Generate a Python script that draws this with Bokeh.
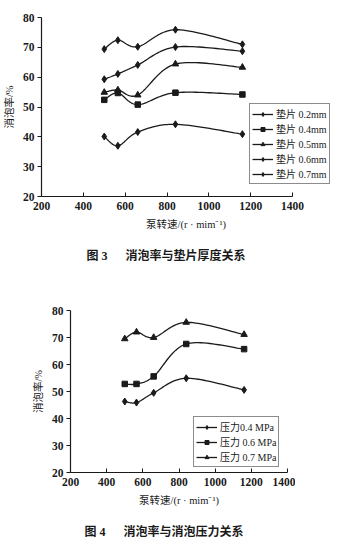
import numpy as np
from bokeh.plotting import figure
from bokeh.models import Range1d, FixedTicker, Legend, LegendItem, Title, Spacer
from bokeh.layouts import column, row
from bokeh.embed import file_html
from bokeh.resources import INLINE

# ---- data ----
speed = [500, 565, 660, 840, 1160]

shim_labels = ["垫片 0.2mm", "垫片 0.4mm", "垫片 0.5mm", "垫片 0.6mm", "垫片 0.7mm"]
shim_02 = [40.1, 37.0, 41.6, 44.2, 40.9]
shim_04 = [52.4, 54.7, 50.8, 54.8, 54.2]
shim_05 = [54.9, 55.7, 54.0, 64.4, 63.3]
shim_06 = [59.3, 61.1, 64.1, 70.1, 68.7]
shim_07 = [69.4, 72.4, 70.2, 75.9, 71.0]

press_labels = ["压力0.4 MPa", "压力 0.6 MPa", "压力 0.7 MPa"]
press_04 = [46.3, 45.9, 49.5, 54.9, 50.6]
press_06 = [52.8, 52.8, 55.6, 67.6, 65.7]
press_07 = [69.5, 72.0, 70.0, 75.6, 71.1]

y_ticks = [20, 30, 40, 50, 60, 70, 80]
x_ticks = [200, 400, 600, 800, 1000, 1200, 1400]

x_title = "泵转速/(r · mim⁻¹)"
y_title = "消泡率/%"
cap3 = "图 3\u2003\u2002消泡率与垫片厚度关系"
cap4 = "图 4\u2003\u2002消泡率与消泡压力关系"

SERIF = "Liberation Serif, Noto Sans CJK SC"
INK = "#1a1a1a"


def smooth(xs, ys, n=24):
    """Excel-like smoothed line (uniform Catmull-Rom through the data points)."""
    P = np.column_stack([xs, ys]).astype(float)
    P = np.vstack([P[0], P, P[-1]])
    out = []
    t = np.linspace(0, 1, n)
    for i in range(1, len(P) - 2):
        p0, p1, p2, p3 = P[i - 1], P[i], P[i + 1], P[i + 2]
        c1 = p1 + (p2 - p0) / 6.0
        c2 = p2 - (p3 - p1) / 6.0
        b = ((1 - t) ** 3)[:, None] * p1 + (3 * (1 - t) ** 2 * t)[:, None] * c1 \
            + (3 * (1 - t) * t ** 2)[:, None] * c2 + (t ** 3)[:, None] * p2
        out.append(b if i == 1 else b[1:])
    c = np.vstack(out)
    return c[:, 0], c[:, 1]


def style(p):
    p.outline_line_color = None
    p.xgrid.visible = False
    p.ygrid.visible = False
    for ax in (p.xaxis[0], p.yaxis[0]):
        ax.axis_line_color = INK
        ax.axis_line_width = 1.2
        ax.major_tick_line_color = INK
        ax.minor_tick_line_color = None
        ax.major_label_text_font = SERIF
        ax.major_label_text_font_size = "11.5px"
        ax.major_label_text_font_style = "bold"
        ax.major_label_text_color = INK
        ax.axis_label_text_font = SERIF
        ax.axis_label_text_font_size = "10.5px"
        ax.axis_label_text_font_style = "normal"
        ax.axis_label_text_color = INK
    p.xaxis[0].ticker = FixedTicker(ticks=x_ticks)
    p.yaxis[0].ticker = FixedTicker(ticks=y_ticks)
    p.xaxis[0].bounds = (200, 1400)
    p.xaxis[0].major_tick_in = 4
    p.xaxis[0].major_tick_out = 0
    p.yaxis[0].major_tick_in = 0
    p.yaxis[0].major_tick_out = 4
    p.xaxis[0].axis_label = x_title
    p.yaxis[0].axis_label = y_title
    p.xaxis[0].major_label_standoff = 5
    p.yaxis[0].major_label_standoff = 3
    p.yaxis[0].axis_label_standoff = 5
    p.xaxis[0].axis_label_standoff = 6


def add_series(p, ys, marker, size):
    sx, sy = smooth(speed, ys)
    r1 = p.line(sx, sy, line_color=INK, line_width=1.3)
    r2 = p.scatter(speed, ys, marker=marker, size=size, fill_color=INK, line_color=INK)
    return [r1, r2]


def add_legend(p, items, loc):
    lg = Legend(items=items, location=loc, border_line_color=INK, border_line_width=1.2,
                background_fill_alpha=1, label_text_font=SERIF, label_text_font_size="10px",
                label_text_color=INK, glyph_width=21, glyph_height=10, label_standoff=3,
                spacing=0, padding=2, margin=0, label_height=12)
    p.add_layout(lg, "center")


def add_caption(p, text, offset):
    t = Title(text=text, align="left", offset=offset, text_font=SERIF, text_font_size="12px",
              text_font_style="bold", text_color=INK, standoff=28)
    p.add_layout(t, "below")


# ---- figure 3 ----
p1 = figure(width=338, height=278, x_range=Range1d(200, 1581), y_range=Range1d(20, 80),
            output_backend="svg", toolbar_location=None,
            min_border_left=40, min_border_right=8, min_border_top=17, min_border_bottom=82)
style(p1)
series1 = [(shim_02, "diamond", 7), (shim_04, "square", 5.5), (shim_05, "triangle", 6.5),
           (shim_06, "diamond", 7), (shim_07, "diamond", 7)]
items1 = []
for (ys, mk, sz), lab in zip(series1, shim_labels):
    items1.append(LegendItem(label=lab, renderers=add_series(p1, ys, mk, sz)))
add_legend(p1, items1, (208, 12))
add_caption(p1, cap3, 45)

# ---- figure 4 ----
p2 = figure(width=266, height=277, x_range=Range1d(200, 1400), y_range=Range1d(20, 80),
            output_backend="svg", toolbar_location=None,
            min_border_left=40, min_border_right=8, min_border_top=32, min_border_bottom=83)
style(p2)
series2 = [(press_04, "diamond", 7), (press_06, "square", 5.5), (press_07, "triangle", 6.5)]
items2 = []
for (ys, mk, sz), lab in zip(series2, press_labels):
    items2.append(LegendItem(label=lab, renderers=add_series(p2, ys, mk, sz)))
add_legend(p2, items2, (123, 5))
add_caption(p2, cap4, 14)

layout = column(row(p1), row(Spacer(width=29, height=277), p2, Spacer(width=43, height=277)),
                spacing=0)
open("out.html", "w").write(file_html(layout, INLINE))
